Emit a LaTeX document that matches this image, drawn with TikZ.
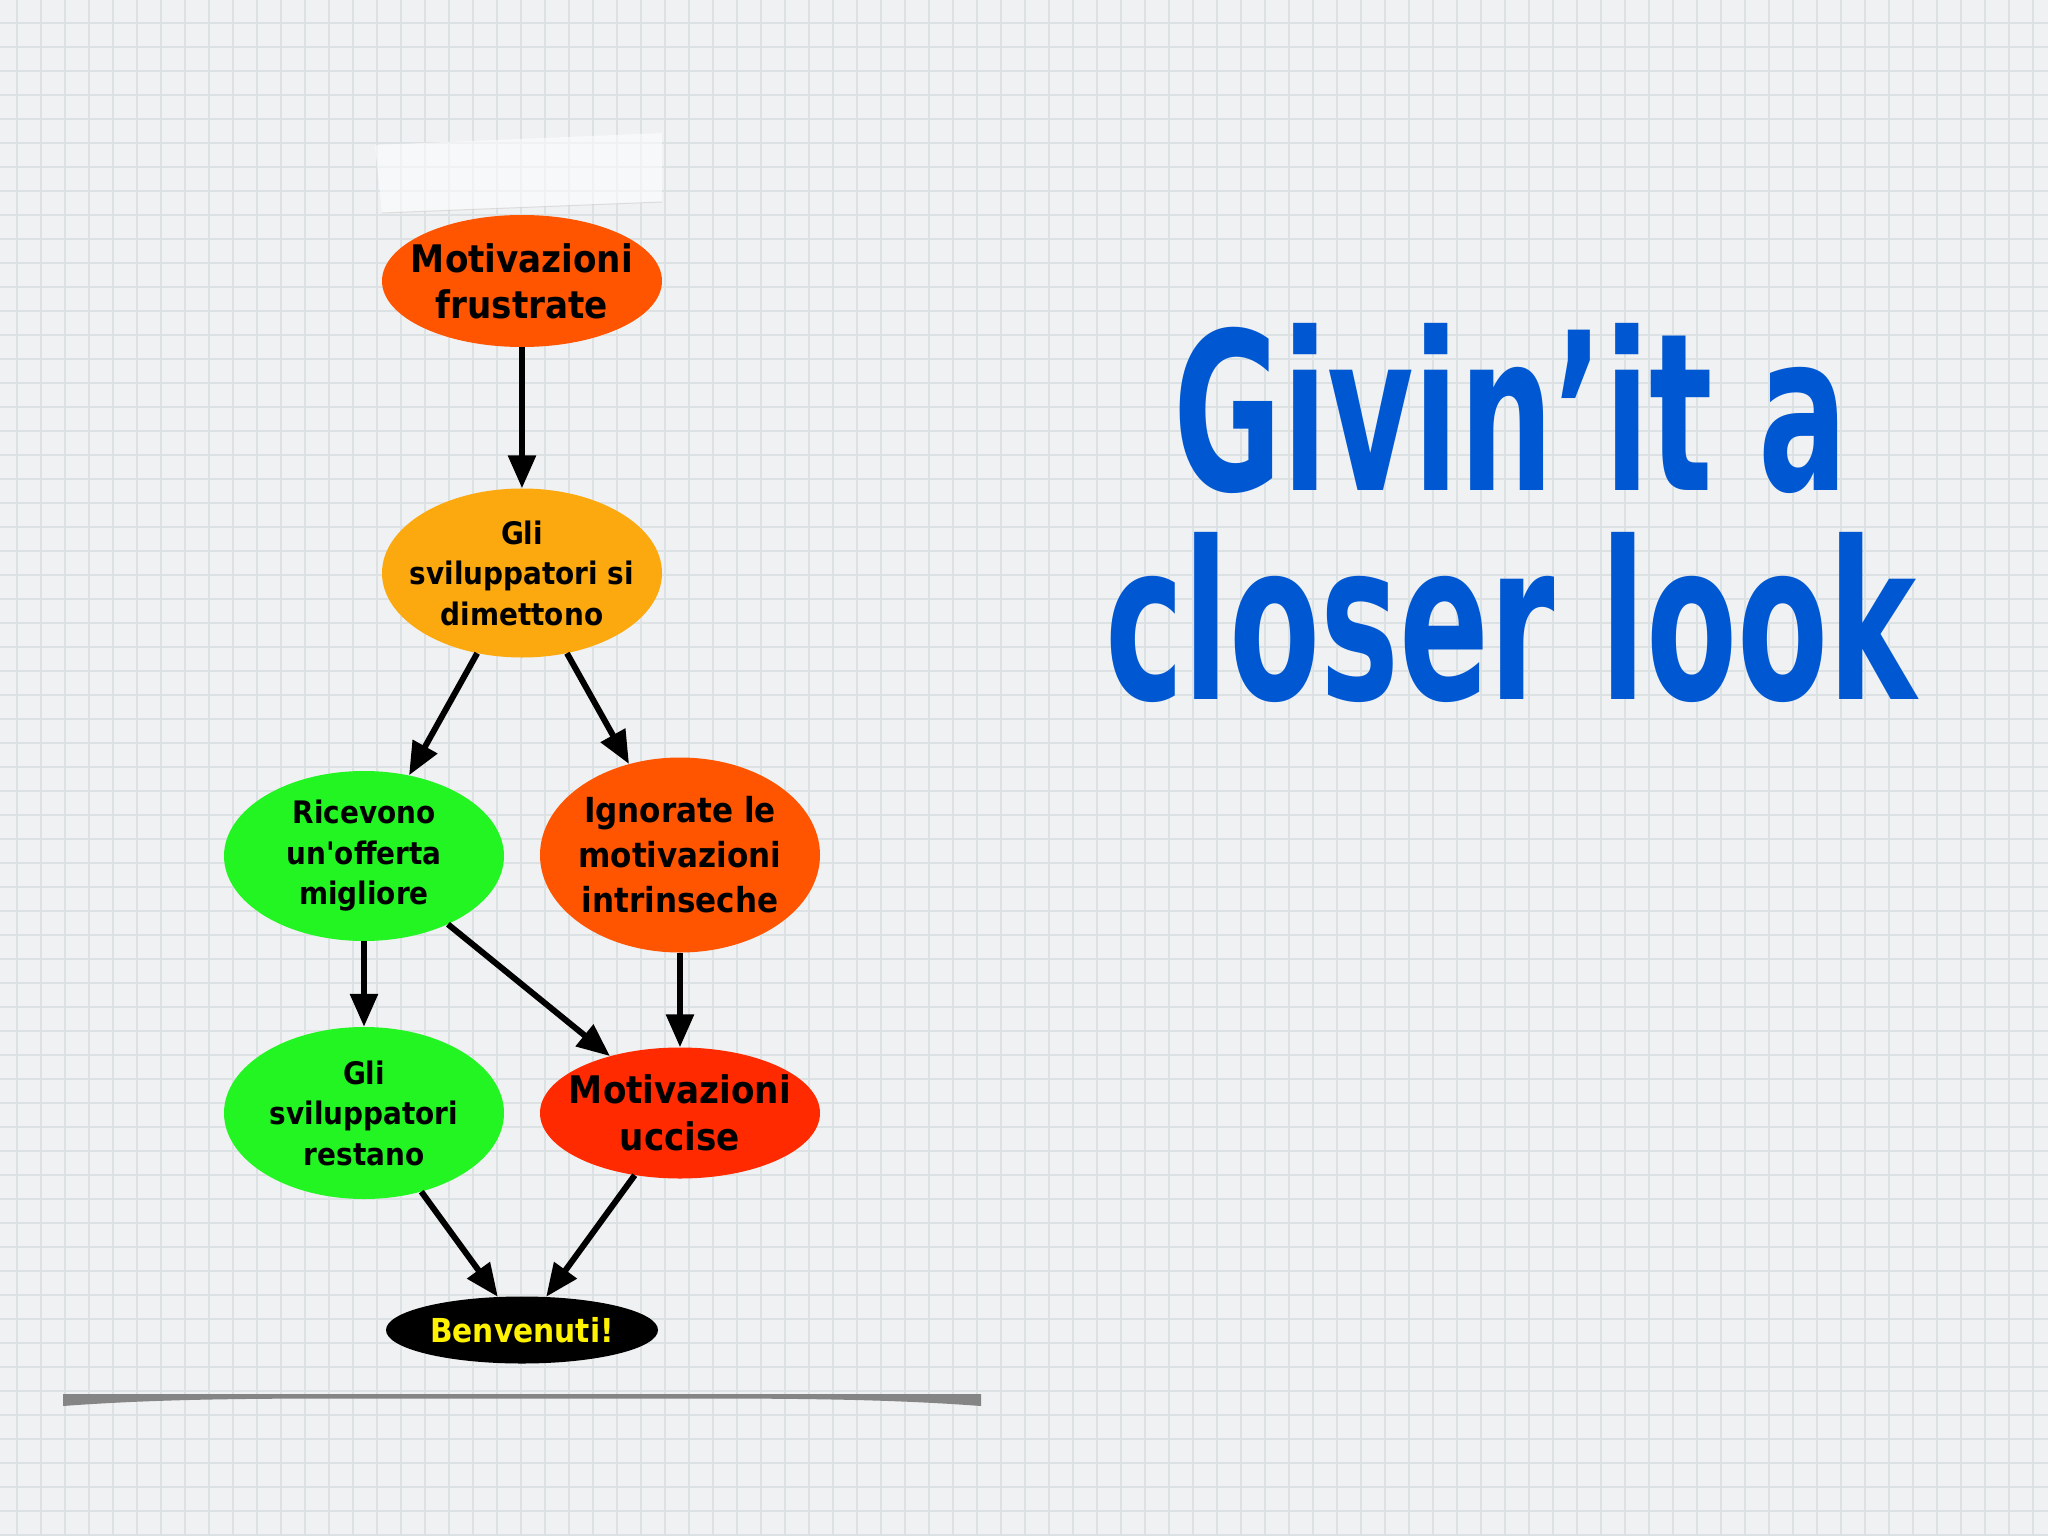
\documentclass[tikz,border=0pt]{standalone}
\usepackage{fontspec}
\usepackage{graphicx}
\usetikzlibrary{shapes.geometric,arrows.meta}
\newfontfamily\nodefont{DejaVu Sans Condensed Bold}
\definecolor{bgc}{HTML}{EFF1F2}
\definecolor{gridc}{HTML}{DCE1E3}
\definecolor{orred}{HTML}{FF5500}
\definecolor{amber}{HTML}{FBA90F}
\definecolor{lgreen}{HTML}{22F522}
\definecolor{hotred}{HTML}{FF2A00}
\definecolor{titleblue}{HTML}{0057D2}
\definecolor{shadowc}{HTML}{858585}
\begin{document}
\begin{tikzpicture}[x=1pt,y=-1pt,
  ell/.style={ellipse, inner sep=0pt, draw=none},
  txt/.style={align=center, inner sep=0pt, text=black},
  conn/.style={line width=6pt, -{Triangle[length=33pt,width=27pt]}},
  gridline/.style={draw=gridc, line width=2pt},
  ttl/.style={anchor=base, inner sep=0pt, text=titleblue, font=\nodefont\fontsize{220}{220}\selectfont}
]
\useasboundingbox (0,0) rectangle (2048,1536);
\fill[bgc] (0,0) rectangle (2048,1536);
\foreach \i in {0,...,85} \draw[gridline] ({16.7+24*\i},0) -- ({16.7+24*\i},1536);
\foreach \i in {0,...,63} \draw[gridline] (0,{23+24*\i}) -- (2048,{23+24*\i});

% tape
\fill[white, opacity=0.55] (375,145) -- (662,133) -- (662,202) -- (382,213) -- cycle;
\draw[black!20, opacity=0.6, line width=1pt] (382,213) -- (662,202);

% bottom shadow bar
\fill[shadowc] (63,1394) -- (981,1394) -- (981,1406) .. controls (900,1400) and (820,1398.5) .. (700,1398.5) -- (344,1398.5) .. controls (224,1398.5) and (144,1400) .. (63,1406) -- cycle;

% ellipses
\node[ell, fill=orred,  minimum width=280pt, minimum height=132pt] (n1) at (522,281) {};
\node[ell, fill=amber,  minimum width=280pt, minimum height=169pt] (n2) at (522,573) {};
\node[ell, fill=lgreen, minimum width=280pt, minimum height=170pt] (n3) at (364,856) {};
\node[ell, fill=orred,  minimum width=280pt, minimum height=195pt] (n4) at (680,855) {};
\node[ell, fill=lgreen, minimum width=280pt, minimum height=172pt] (n5) at (364,1113) {};
\node[ell, fill=hotred, minimum width=280pt, minimum height=131pt] (n6) at (680,1113) {};
\node[ell, fill=black,  minimum width=272pt, minimum height=67pt] (n7) at (522,1330) {};

% texts
\node[txt, font=\nodefont\fontsize{38}{46}\selectfont] (t1) at (n1) {Motivazioni\\frustrate};
\node[txt, font=\nodefont\fontsize{31}{40.5}\selectfont] (t2) at (n2) {Gli\\sviluppatori si\\dimettono};
\node[txt, font=\nodefont\fontsize{31}{40.5}\selectfont] (t3) at (n3) {Ricevono\\un'offerta\\migliore};
\node[txt, font=\nodefont\fontsize{34.5}{45}\selectfont] (t4) at (n4) {Ignorate le\\motivazioni\\intrinseche};
\node[txt, font=\nodefont\fontsize{31}{40.5}\selectfont] (t5) at (n5) {Gli\\sviluppatori\\restano};
\node[txt, font=\nodefont\fontsize{38}{47}\selectfont] (t6) at (n6) {Motivazioni\\uccise};
\node[txt, text=yellow, font=\nodefont\fontsize{33}{40}\selectfont] (t7) at (n7) {Benvenuti!};

% connectors
\draw[conn] (n1) -- (n2);
\draw[conn] (n2) -- (n3);
\draw[conn] (n2) -- (n4);
\draw[conn] (n3) -- (n5);
\draw[conn] (n3) -- (n6);
\draw[conn] (n4) -- (n6);
\draw[conn] (n5) -- (n7);
\draw[conn] (n6) -- (n7);

% title
\node[ttl] (title1) at (1511,490) {\scalebox{0.67}[1]{Givin’it a}};
\node[ttl] (title2) at (1511,699) {\scalebox{0.67}[1]{closer look}};
\end{tikzpicture}
\end{document}
